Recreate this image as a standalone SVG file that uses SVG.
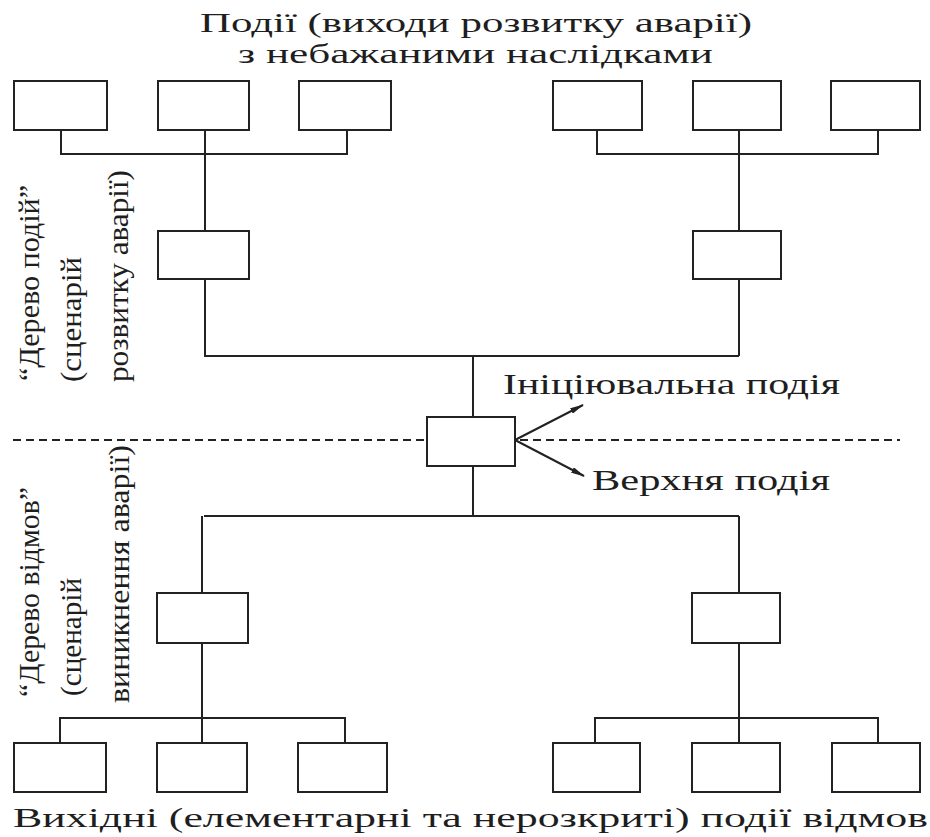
<svg xmlns="http://www.w3.org/2000/svg" width="930" height="837" viewBox="0 0 930 837">
<style>
.box{fill:#fff;stroke:#222;stroke-width:2}
.ln{fill:none;stroke:#222;stroke-width:2}
.dash{fill:none;stroke:#222;stroke-width:2;stroke-dasharray:8 5}
.t{font-family:"Liberation Serif","DejaVu Serif",serif;fill:#1e1e1e}
.v{font-family:"Liberation Serif","DejaVu Serif",serif;fill:#1e1e1e;font-size:30px}
</style>
<defs>
<marker id="ah" viewBox="0 0 14 6" refX="13" refY="3" markerWidth="14" markerHeight="6" markerUnits="userSpaceOnUse" orient="auto">
<path d="M0,0 L14,3 L0,6 z" fill="#222"/>
</marker>
</defs>
<rect width="930" height="837" fill="#fff"/>
<line class="dash" x1="13" y1="440" x2="900" y2="440"/>
<g id="connectors">
<path class="ln" d="M61,130 V154 H347 V130 M205,130 V231 M205,279 V356 H739 M739,279 V231 M597,130 V154 H878 V130 M739,130 V231 M739,279 V356 M473,356 V417"/>
<path class="ln" d="M473,466 V516 M204,516 H739 M202,516 V593 M202,643 V743 M60,743 V718 H345 V743 M739,516 V593 M739,643 V743 M595,743 V718 H878 V743"/>
<line class="ln" x1="515" y1="440" x2="583" y2="405" marker-end="url(#ah)"/>
<line class="ln" x1="515" y1="440" x2="584" y2="476" marker-end="url(#ah)"/>
</g>
<g id="top1"><rect class="box" x="14" y="81" width="93" height="49"/></g>
<g id="top2"><rect class="box" x="158" y="81" width="91" height="49"/></g>
<g id="top3"><rect class="box" x="299" y="81" width="92" height="49"/></g>
<g id="top4"><rect class="box" x="553" y="81" width="89" height="49"/></g>
<g id="top5"><rect class="box" x="693" y="81" width="88" height="49"/></g>
<g id="top6"><rect class="box" x="831" y="81" width="89" height="49"/></g>
<g id="midTopL"><rect class="box" x="158" y="231" width="91" height="48"/></g>
<g id="midTopR"><rect class="box" x="693" y="231" width="88" height="48"/></g>
<g id="center"><rect class="box" x="427" y="417" width="88" height="49"/></g>
<g id="midBotL"><rect class="box" x="157" y="593" width="91" height="50"/></g>
<g id="midBotR"><rect class="box" x="692" y="593" width="88" height="50"/></g>
<g id="bot1"><rect class="box" x="14" y="743" width="92" height="49"/></g>
<g id="bot2"><rect class="box" x="157" y="743" width="90" height="49"/></g>
<g id="bot3"><rect class="box" x="298" y="743" width="89" height="49"/></g>
<g id="bot4"><rect class="box" x="553" y="743" width="87" height="49"/></g>
<g id="bot5"><rect class="box" x="692" y="743" width="88" height="49"/></g>
<g id="bot6"><rect class="box" x="832" y="743" width="88" height="49"/></g>
<g id="labels">
<text class="t" x="200" y="32" font-size="27" textLength="552" lengthAdjust="spacingAndGlyphs">Події (виходи розвитку аварії)</text>
<text class="t" x="238" y="63" font-size="27" textLength="475" lengthAdjust="spacingAndGlyphs">з небажаними наслідками</text>
<text class="t" x="503" y="394" font-size="30" textLength="337" lengthAdjust="spacingAndGlyphs">Ініціювальна подія</text>
<text class="t" x="592" y="490" font-size="30" textLength="238" lengthAdjust="spacingAndGlyphs">Верхня подія</text>
<text class="t" x="13" y="827" font-size="27" textLength="915" lengthAdjust="spacingAndGlyphs">Вихідні (елементарні та нерозкриті) події відмов</text>
<text class="v" transform="translate(39,381) rotate(-90)" textLength="196" lengthAdjust="spacingAndGlyphs">“Дерево подій”</text>
<text class="v" transform="translate(81,382) rotate(-90)" textLength="125" lengthAdjust="spacingAndGlyphs">(сценарій</text>
<text class="v" transform="translate(128,382) rotate(-90)" textLength="212" lengthAdjust="spacingAndGlyphs">розвитку аварії)</text>
<text class="v" transform="translate(39,697) rotate(-90)" textLength="210" lengthAdjust="spacingAndGlyphs">“Дерево відмов”</text>
<text class="v" transform="translate(81,696) rotate(-90)" textLength="118" lengthAdjust="spacingAndGlyphs">(сценарій</text>
<text class="v" transform="translate(129,703) rotate(-90)" textLength="258" lengthAdjust="spacingAndGlyphs">виникнення аварії)</text>
</g>
</svg>
